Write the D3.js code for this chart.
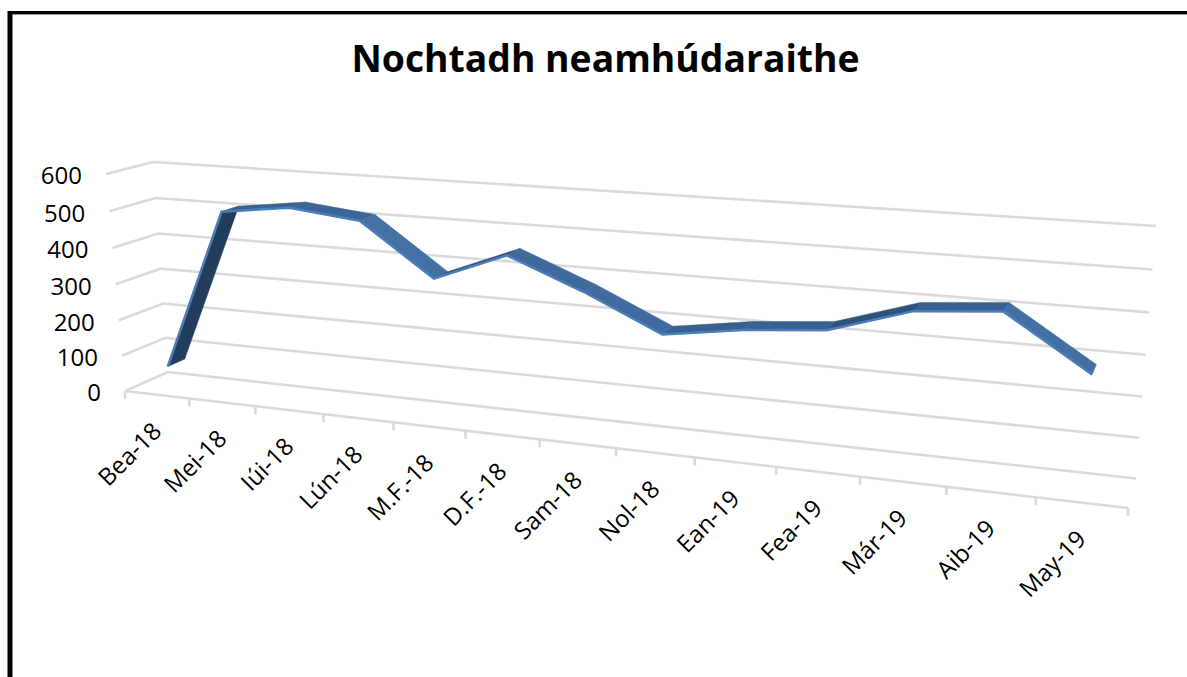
<!DOCTYPE html>
<html>
<head>
<meta charset="utf-8">
<script src="https://cdn.jsdelivr.net/npm/d3@7"></script>
<style>
  body { margin: 0; background: #fff; }
  text { font-family: "Open Sans", sans-serif; fill: #000; }
</style>
</head>
<body>
<div id="chart"></div>
<script>
// -- data -- //
const chartTitle = 'Nochtadh neamhúdaraithe';
const months = ['Bea-18', 'Mei-18', 'Iúi-18', 'Lún-18', 'M.F.-18', 'D.F.-18', 'Sam-18',
                'Nol-18', 'Ean-19', 'Fea-19', 'Már-19', 'Aib-19', 'May-19'];
const exposure = [64, 508, 532, 512, 376, 452, 375, 285, 315, 333, 397, 414, 285];
const valueTicks = [0, 100, 200, 300, 400, 500, 600];

const width = 1187, height = 677;

const svg = d3.select('#chart').append('svg')
    .attr('width', width)
    .attr('height', height);

// maps the unit square on to a four sided plane, keeps the perspective of the 3D chart
const planeMap = (p0, p1, p2, p3) => {
    const sx = p0[0] - p1[0] + p2[0] - p3[0], sy = p0[1] - p1[1] + p2[1] - p3[1];
    const dx1 = p1[0] - p2[0], dx2 = p3[0] - p2[0], dy1 = p1[1] - p2[1], dy2 = p3[1] - p2[1];
    const den = dx1 * dy2 - dx2 * dy1;
    const g = (sx * dy2 - dx2 * sy) / den, h = (dx1 * sy - sx * dy1) / den;
    const a = p1[0] - p0[0] + g * p1[0], b = p3[0] - p0[0] + h * p3[0];
    const d = p1[1] - p0[1] + g * p1[1], e = p3[1] - p0[1] + h * p3[1];
    return (u, v) => {
        const w = g * u + h * v + 1;
        return [(a * u + b * v + p0[0]) / w, (d * u + e * v + p0[1]) / w];
    };
};

// corners: bottom left, bottom right, top right, top left
const frontPlane = planeMap([125, 391], [1128, 508], [1146, 247], [106, 174]);
const backPlane = planeMap([168, 372], [1136, 478.5], [1156, 226], [153, 162]);

const xScale = d3.scaleLinear().domain([0, months.length]).range([0, 1]);
const yScale = d3.scaleLinear().domain([0, 600]).range([0, 1]);

const project = (cat, val, depth) => {
    const f = frontPlane(xScale(cat), yScale(val));
    const b = backPlane(xScale(cat), yScale(val));
    return [f[0] + (b[0] - f[0]) * depth, f[1] + (b[1] - f[1]) * depth];
};

// -- frame -- //
svg.append('path')
    .attr('d', 'M10,677V11')
    .attr('fill', 'none')
    .attr('stroke', '#000')
    .attr('stroke-width', 5);
svg.append('rect').attr('x', 8).attr('y', 11).attr('width', 1179).attr('height', 3).attr('fill', '#000');
svg.append('rect').attr('x', 13).attr('y', 14).attr('width', 1174).attr('height', 1).attr('fill', '#999');

// -- title -- //
svg.append('text')
    .attr('x', 605.5)
    .attr('y', 72)
    .attr('text-anchor', 'middle')
    .style('font-size', '37.3px')
    .style('font-weight', 700)
    .text(chartTitle);

// -- gridlines -- //
const lineGen = d3.line();
const grid = svg.append('g')
    .attr('fill', 'none')
    .attr('stroke', '#dadada')
    .attr('stroke-width', 2.6);

grid.selectAll('.wall')
    .data(valueTicks)
    .enter().append('path')
    .attr('class', 'wall')
    .attr('d', v => lineGen([project(0, v, 0), project(0, v, 1), project(months.length, v, 1)]));

grid.append('path')
    .attr('d', lineGen([project(0, 0, 0), project(months.length, 0, 0)]));

grid.selectAll('.tick')
    .data(d3.range(months.length + 1))
    .enter().append('path')
    .attr('class', 'tick')
    .attr('d', i => {
        const p = project(i, 0, 0);
        return lineGen([p, [p[0], p[1] + 8]]);
    });

// -- value labels -- //
svg.selectAll('.value-label')
    .data(valueTicks)
    .enter().append('text')
    .attr('class', 'value-label')
    .attr('x', v => project(0, v, 0)[0] - 24)
    .attr('y', v => project(0, v, 0)[1] + 2)
    .attr('dy', '0.35em')
    .attr('text-anchor', 'end')
    .style('font-size', '24px')
    .text(v => v);

// -- month labels -- //
svg.selectAll('.month-label')
    .data(months)
    .enter().append('text')
    .attr('class', 'month-label')
    .attr('transform', (d, i) => {
        const p = project(i + 0.5, 0, 0);
        return `translate(${p[0] + 6},${p[1] + 38}) rotate(-45)`;
    })
    .attr('text-anchor', 'end')
    .style('font-size', '24px')
    .text(d => d);

// -- ribbon -- //
const ribbonFront = 0.3, ribbonBack = 0.7;
const segmentColor = d3.scaleLinear()
    .domain([-100, 0, 30, 75, 400])
    .range(['#426c9f', '#3b6292', '#37608f', '#2f4d72', '#243f5f']);

const segments = d3.pairs(exposure.map((v, i) => ({ i, v })));
const ribbon = svg.append('g');

ribbon.selectAll('.segment')
    .data(segments)
    .enter().append('path')
    .attr('class', 'segment')
    .attr('fill', d => segmentColor(d[1].v - d[0].v))
    .attr('stroke', d => segmentColor(d[1].v - d[0].v))
    .attr('stroke-width', 0.5)
    .attr('d', d => lineGen([
        project(d[0].i + 0.5, d[0].v, ribbonFront),
        project(d[1].i + 0.5, d[1].v, ribbonFront),
        project(d[1].i + 0.5, d[1].v, ribbonBack),
        project(d[0].i + 0.5, d[0].v, ribbonBack)
    ]) + 'Z');

ribbon.append('path')
    .attr('fill', 'none')
    .attr('stroke', '#4a7ebb')
    .attr('stroke-width', 2.5)
    .attr('d', lineGen(exposure.map((v, i) => project(i + 0.5, v, ribbonFront))));
</script>
</body>
</html>
